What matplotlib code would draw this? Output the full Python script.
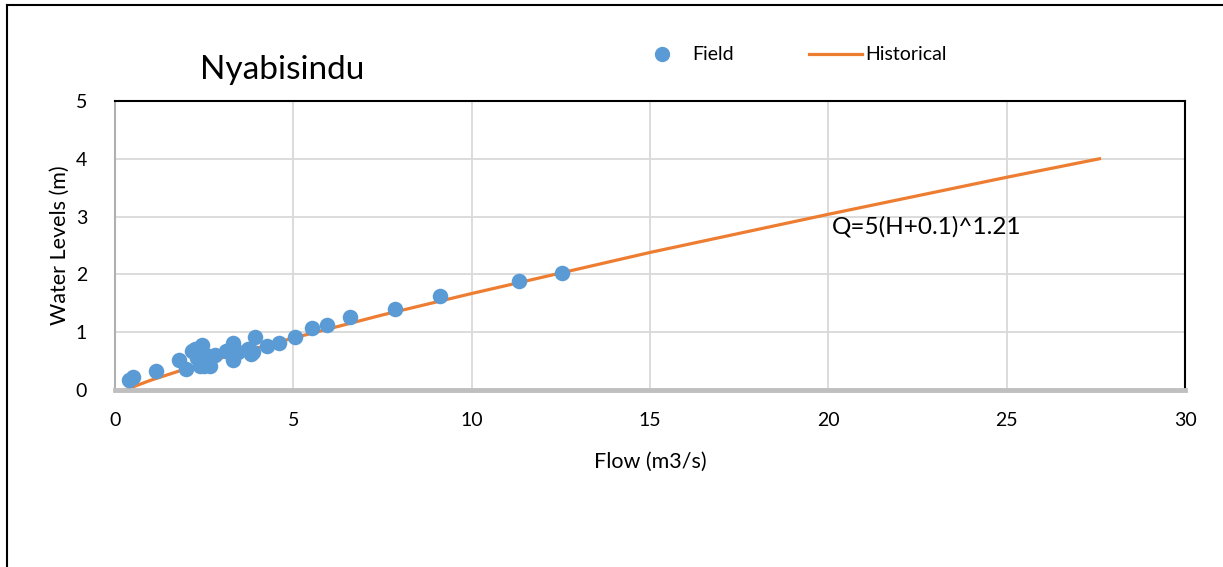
import numpy as np
import matplotlib
matplotlib.use("Agg")
import matplotlib.pyplot as plt
from matplotlib.lines import Line2D

plt.rcParams.update({"font.family": ["Lato", "DejaVu Sans"], "font.size": 14})

# field gaugings (flow m3/s, water level m)
field_q = [0.40, 0.50, 1.15, 1.80, 2.00, 2.15, 2.25, 2.43, 2.38, 2.50, 2.66, 2.80,
           2.30, 2.55, 3.10, 3.32, 3.32, 3.45, 3.74, 3.80, 3.87, 3.92, 4.25, 4.60,
           5.05, 5.52, 5.94, 6.59, 7.85, 9.11, 11.33, 12.53]
field_h = [0.17, 0.22, 0.33, 0.52, 0.36, 0.68, 0.71, 0.78, 0.42, 0.42, 0.41, 0.61,
           0.55, 0.60, 0.68, 0.81, 0.52, 0.66, 0.71, 0.62, 0.66, 0.92, 0.77, 0.82,
           0.91, 1.08, 1.12, 1.26, 1.41, 1.62, 1.88, 2.02]

# historical rating curve
hist_q = [0.35, 1.0, 2.0, 3.0, 5.0, 7.5, 10.0, 15.0, 20.0, 25.0, 27.6]
hist_h = [0.02, 0.17, 0.37, 0.56, 0.90, 1.30, 1.67, 2.38, 3.04, 3.68, 4.00]

BLUE, ORANGE = "#5b9bd5", "#ed7d31"

fig = plt.figure(figsize=(12.23, 5.67), dpi=100)
ax = fig.add_axes([0.094, 0.312, 0.875, 0.510])

ax.plot(hist_q, hist_h, color=ORANGE, lw=2.3, zorder=2)
ax.scatter(field_q, field_h, s=125, color=BLUE, zorder=3, linewidths=0)

ax.set_xlim(0, 30); ax.set_ylim(0, 5)
ax.set_xticks(range(0, 31, 5)); ax.set_yticks(range(0, 6))
ax.grid(True, color="#d9d9d9", lw=1.3)
ax.set_axisbelow(True)
ax.tick_params(length=0, labelsize=14, pad=16)
ax.tick_params(axis="y", pad=20)
for s in ("top", "right"):
    ax.spines[s].set_color("black"); ax.spines[s].set_linewidth(1.5)
ax.spines["left"].set_color("#b0b0b0"); ax.spines["left"].set_linewidth(1.5)
ax.spines["bottom"].set_color("#bfbfbf"); ax.spines["bottom"].set_linewidth(3.5)

ax.set_xlabel("Flow (m3/s)", fontsize=15.5, labelpad=16)
ax.set_ylabel("Water Levels (m)", fontsize=15.5, labelpad=4)
ax.text(20.1, 2.82, "Q=5(H+0.1)^1.21", fontsize=17.5, va="center", ha="left")

fig.text(0.231, 0.877, "Nyabisindu", fontsize=24, ha="center", va="center")

handles = [Line2D([], [], ls="none", marker="o", ms=10, color=BLUE),
           Line2D([], [], color=ORANGE, lw=2.3)]
fig.legend(handles, ["Field", "Historical"], loc="center", bbox_to_anchor=(0.647, 0.903),
           ncol=2, frameon=False, fontsize=14, handlelength=2.7, columnspacing=3.9,
           handletextpad=0.2)

# outer chart frame (left and top edges visible)
fig.add_artist(Line2D([0.006, 0.006], [0, 0.992], color="black", lw=1.5, transform=fig.transFigure))
fig.add_artist(Line2D([0.006, 1.0], [0.992, 0.992], color="black", lw=1.5, transform=fig.transFigure))

fig.savefig("out.png", dpi=100)
